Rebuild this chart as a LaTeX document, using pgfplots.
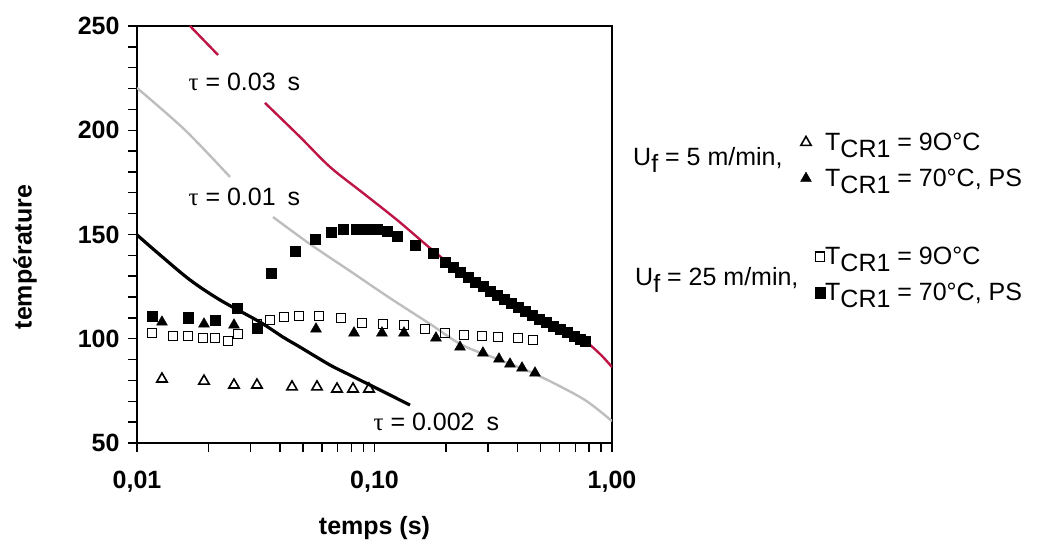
\documentclass[border=0pt]{standalone}
\usepackage{fontspec}
\setmainfont{Liberation Sans}
\newfontfamily\taufont{Liberation Serif}
\usepackage{pgfplots}
\pgfplotsset{compat=1.18}
\definecolor{tauRed}{RGB}{190,20,70}
\definecolor{tauGrey}{RGB}{190,190,190}
\newcommand{\TCR}{T\raisebox{-7pt}{CR1}}
\begin{document}
\begin{tikzpicture}[x=1pt,y=1pt]
\path[use as bounding box] (0,0) rectangle (1038,543);
\begin{axis}[
  at={(137pt,100pt)}, anchor=south west,
  scale only axis, width=475pt, height=417pt,
  xmode=log, xmin=0.01, xmax=1, ymin=50, ymax=250,
  xtick={0.01,0.1,1}, xticklabels={{0,01},{0,10},{1,00}},
  minor xtick={0.02,0.03,0.04,0.05,0.06,0.07,0.08,0.09,0.2,0.3,0.4,0.5,0.6,0.7,0.8,0.9},
  ytick={50,100,150,200,250}, yticklabels={50,100,150,200,250},
  minor ytick={60,70,80,90,110,120,130,140,160,170,180,190,210,220,230,240},
  tick align=outside, tick pos=left,
  major tick length=9pt, minor tick length=9pt,
  major tick style={black, line width=1.4pt},
  minor tick style={black, line width=1.4pt},
  axis line style={line width=1.6pt},
  ticklabel style={font=\fontsize{25}{25}\selectfont\bfseries},
  xticklabel style={yshift=-16pt},
  yticklabel style={xshift=-5pt},
  xlabel={temps (s)}, ylabel={température},
  label style={font=\fontsize{25}{25}\selectfont\bfseries},
  xlabel style={at={(axis description cs:0.5,-0.2206)}, anchor=base},
  ylabel style={at={(axis description cs:-0.2358,0.446)}, anchor=center},
  legend style={at={(axis description cs:1.390,0.744)}, anchor=north west,
    draw=none, fill=none, inner sep=0pt, row sep=17pt,
    font=\fontsize{25}{25}\selectfont, nodes={inner sep=0pt},
    /tikz/every odd column/.append style={column sep=0pt}},
  legend cell align=left,
]
% tau = 0.03 s
\addplot[tauRed, line width=2.4pt, smooth, forget plot] coordinates {
 (0.01672,250) (0.02194,236.1)};
\addplot[tauRed, line width=2.4pt, smooth, forget plot] coordinates {
 (0.03459,213.1) (0.04857,196.8) (0.06495,182.4) (0.08946,169.9) (0.1244,157.0)
 (0.1713,143.5) (0.2291,132.0) (0.3064,122.9) (0.4100,114.7) (0.5482,107.1)
 (0.7550,99.4) (0.8902,92.7) (1.0,86.4)};
% tau = 0.01 s
\addplot[tauGrey, line width=2.4pt, smooth, forget plot] coordinates {
 (0.01,220.3) (0.01593,200.1) (0.02464,177.6)};
\addplot[tauGrey, line width=2.4pt, smooth, forget plot] coordinates {
 (0.03738,158.4) (0.05351,145.4) (0.07884,132.5) (0.1162,119.5) (0.1713,107.1)
 (0.2336,97.0) (0.3376,89.8) (0.4740,83.1) (0.7550,71.2) (1.0,60.5)};
% tau = 0.002 s
\addplot[black, line width=3.2pt, smooth, forget plot] coordinates {
 (0.01,149.8) (0.0125,140.2) (0.01672,128.2) (0.02236,118.6) (0.03294,108.0)
 (0.04118,100.8) (0.04857,96.0) (0.06495,87.4) (0.07884,82.6) (0.1055,75.4) (0.1411,68.2)};
% Uf = 5 m/min, T = 90
\addplot[black, only marks, mark=triangle, mark size=6pt, mark options={black, line width=1.6pt}] coordinates {
 (0.01274,80.7) (0.01915,79.7) (0.02561,77.8) (0.0320,77.8) (0.04494,76.9)
 (0.05727,76.9) (0.06953,75.9) (0.0812,75.9) (0.0948,75.9)};
\addlegendentry{\TCR{} = 9O°C}
% Uf = 5 m/min, T = 70 PS
\addplot[black, only marks, mark=triangle*, mark size=6.3pt, mark options={black, fill=black}] coordinates {
 (0.01274,108.0) (0.01915,107.1) (0.02561,106.6) (0.05671,104.7) (0.0820,102.8)
 (0.1075,102.8) (0.1331,102.8) (0.1815,100.4) (0.2291,96.0) (0.2862,93.2)
 (0.3343,90.3) (0.3719,87.9) (0.4180,86.0) (0.4740,83.6)};
\addlegendentry{\TCR{} = 70°C, PS}
\addlegendimage{empty legend}
\addlegendentry{\rule[-10pt]{0pt}{34pt}}
% Uf = 25 m/min, T = 90
\addplot[black, only marks, mark=square, mark size=4.6pt, mark options={black, line width=1.5pt},
  legend image post style={xshift=14pt}] coordinates {
 (0.01157,102.8) (0.01418,101.3) (0.0164,101.3) (0.01896,100.4) (0.02131,100.4)
 (0.02416,98.9) (0.02663,102.3) (0.0320,107.1) (0.03631,109.0) (0.04157,110.4)
 (0.0481,110.9) (0.05839,110.9) (0.07227,110.0) (0.08858,107.6) (0.1086,107.1)
 (0.1331,106.6) (0.1632,104.7) (0.1981,102.8) (0.2381,101.8) (0.2835,101.3)
 (0.3311,100.8) (0.4019,100.4) (0.4648,99.4)};
\addlegendentry{\TCR{} = 9O°C}
% Uf = 25 m/min, T = 70 PS
\addplot[black, only marks, mark=square*, mark size=5.2pt, mark options={black, fill=black},
  legend image post style={xshift=14pt}] coordinates {
 (0.01157,110.9) (0.0164,110.0) (0.02131,109.0) (0.02637,114.7) (0.0320,105.2)
 (0.03666,131.5) (0.04627,142.1) (0.05617,147.8) (0.06558,151.2) (0.07368,152.6)
 (0.08357,152.6) (0.09299,152.6) (0.1024,152.6) (0.1129,151.7) (0.1244,149.3)
 (0.1481,145.0) (0.1763,141.1) (0.1981,136.8) (0.2141,134.4) (0.2291,132.0)
 (0.2476,129.6) (0.2650,127.2) (0.2862,125.3) (0.3064,122.9) (0.3279,121.0)
 (0.3510,119.1) (0.3756,117.1) (0.4019,115.2) (0.4302,113.3) (0.4604,111.4)
 (0.4927,109.5) (0.5274,108.0) (0.5645,106.1) (0.6041,104.7) (0.6464,103.2)
 (0.6918,101.3) (0.7332,99.9) (0.7696,98.9)};
\addlegendentry{\TCR{} = 70°C, PS}
\end{axis}
\node[anchor=base west, font=\fontsize{25}{25}\selectfont] at (185,452.5) {{\taufont τ} = 0.03\hspace{5pt} s};
\node[anchor=base west, font=\fontsize{25}{25}\selectfont] at (185,337.5) {{\taufont τ} = 0.01\hspace{5pt} s};
\node[anchor=base west, font=\fontsize{25}{25}\selectfont] at (370,112.5) {{\taufont τ} = 0.002\hspace{5pt} s};
\node[anchor=base west, font=\fontsize{25}{25}\selectfont, inner sep=0pt] at (633,377) {U\raisebox{-7pt}{f} = 5 m/min,};
\node[anchor=base west, font=\fontsize{25}{25}\selectfont, inner sep=0pt] at (635,257) {U\raisebox{-7pt}{f} = 25 m/min,};
\end{tikzpicture}
\end{document}
